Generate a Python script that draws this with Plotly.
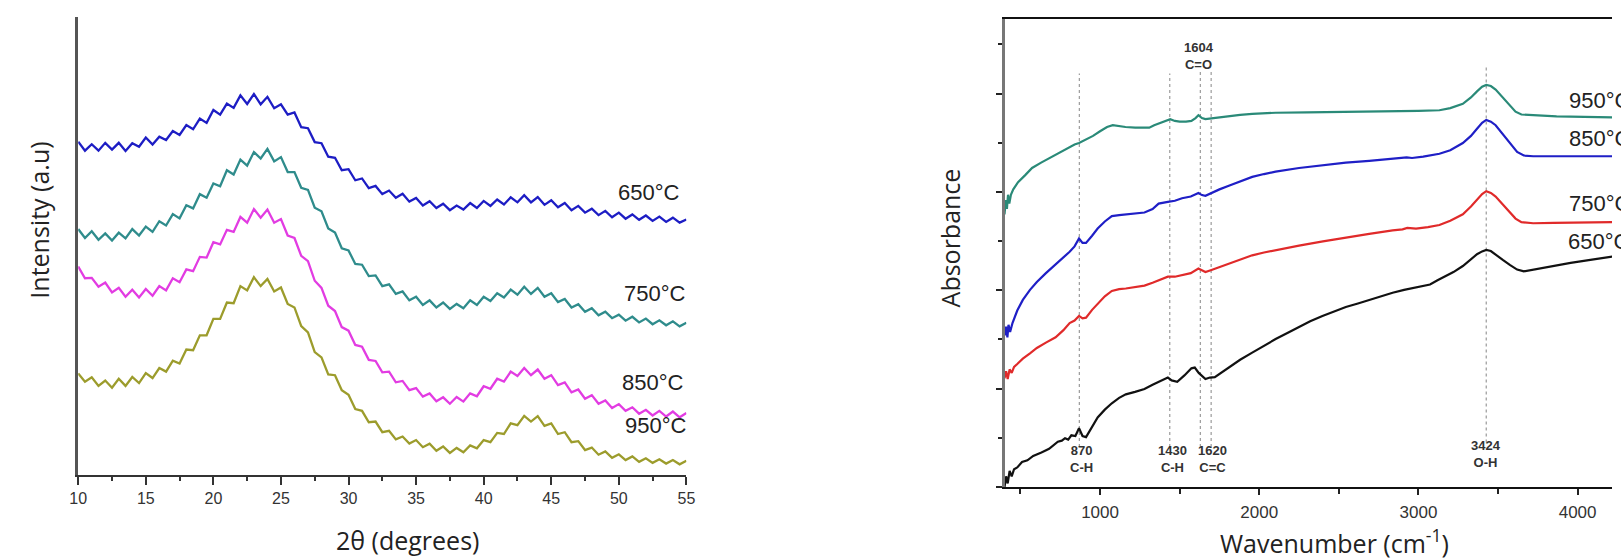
import plotly.graph_objects as go

W, H = 1621, 559

# ---------------- XRD data (left panel) ----------------
two_theta = [10, 10.5, 11, 11.5, 12, 12.5, 13, 13.5, 14, 14.5, 15, 15.5, 16, 16.5, 17, 17.5,
             18, 18.5, 19, 19.5, 20, 20.5, 21, 21.5, 22, 22.5, 23, 23.5, 24, 24.5, 25, 25.5,
             26, 26.5, 27, 27.5, 28, 28.5, 29, 29.5, 30, 30.5, 31, 31.5, 32, 32.5, 33, 33.5,
             34, 34.5, 35, 35.5, 36, 36.5, 37, 37.5, 38, 38.5, 39, 39.5, 40, 40.5, 41, 41.5,
             42, 42.5, 43, 43.5, 44, 44.5, 45, 45.5, 46, 46.5, 47, 47.5, 48, 48.5, 49, 49.5,
             50, 50.5, 51, 51.5, 52, 52.5, 53, 53.5, 54, 54.5, 55]

xrd_650 = [935, 910, 928, 910, 932, 913, 932, 909, 931, 921, 947, 927, 949, 940, 965, 954,
           982, 970, 1000, 988, 1024, 1011, 1042, 1030, 1065, 1041, 1069, 1040, 1061, 1029,
           1040, 1011, 1017, 976, 973, 934, 931, 893, 890, 855, 858, 827, 832, 805, 811, 788,
           798, 778, 789, 767, 777, 756, 768, 749, 761, 743, 756, 745, 763, 749, 769, 755,
           773, 759, 779, 765, 785, 765, 780, 758, 771, 751, 763, 743, 755, 736, 747, 729,
           741, 723, 736, 719, 731, 716, 728, 713, 725, 710, 722, 708, 717]
xrd_750 = [690, 665, 684, 660, 678, 658, 680, 664, 690, 672, 697, 682, 712, 700, 732, 720,
           757, 748, 788, 778, 818, 810, 855, 843, 885, 868, 906, 888, 915, 880, 892, 850,
           850, 806, 800, 750, 740, 692, 680, 636, 630, 592, 590, 558, 560, 530, 535, 508,
           515, 490, 500, 477, 490, 470, 484, 466, 480, 468, 490, 477, 500, 488, 510, 498,
           520, 506, 528, 508, 525, 500, 510, 485, 494, 470, 479, 458, 468, 448, 458, 440,
           450, 433, 444, 428, 439, 423, 434, 420, 431, 417, 427]
xrd_850 = [585, 552, 553, 528, 540, 512, 525, 500, 520, 498, 522, 503, 530, 518, 552, 541,
           577, 572, 612, 610, 653, 647, 688, 682, 724, 708, 746, 722, 745, 708, 718, 672,
           665, 615, 600, 545, 525, 475, 460, 415, 405, 365, 360, 323, 320, 288, 290, 260,
           264, 238, 244, 220, 229, 207, 218, 200, 219, 206, 229, 221, 249, 242, 270, 262,
           290, 278, 300, 280, 296, 270, 280, 252, 260, 232, 240, 214, 224, 200, 209, 188,
           199, 180, 190, 172, 183, 167, 180, 164, 178, 162, 174]
xrd_950 = [285, 262, 274, 250, 265, 245, 270, 250, 275, 258, 286, 272, 300, 290, 321, 313,
           352, 350, 392, 392, 438, 438, 484, 482, 530, 518, 555, 530, 550, 515, 526, 480,
           470, 418, 400, 345, 330, 282, 280, 238, 225, 185, 180, 148, 150, 120, 124, 100,
           108, 88, 98, 78, 88, 68, 80, 62, 76, 64, 83, 75, 98, 92, 118, 115,
           145, 140, 166, 150, 165, 138, 145, 115, 120, 92, 95, 70, 77, 57, 66, 48,
           58, 42, 52, 37, 47, 34, 44, 32, 42, 30, 40]

xrd_labels = ["650°C", "750°C", "850°C", "950°C"]
xrd_colors = ["#1d1dc4", "#2f8c8c", "#e23ce2", "#9c9c2c"]
xrd_ticks = [10, 15, 20, 25, 30, 35, 40, 45, 50, 55]

# ---------------- FTIR data (right panel) ----------------
wn_650 = [400, 410, 420, 432, 445, 460, 480, 510, 544, 580, 632, 680, 735, 760, 780, 800, 820,
          845, 868, 890, 912, 940, 985, 1030, 1074, 1120, 1162, 1220, 1279, 1330, 1368, 1400,
          1426, 1450, 1485, 1530, 1574, 1595, 1620, 1662, 1690, 1721, 1760, 1809, 1880, 1956,
          2030, 2103, 2180, 2250, 2320, 2397, 2470, 2544, 2620, 2691, 2760, 2838, 2910, 2985,
          3030, 3073, 3120, 3162, 3220, 3279, 3330, 3368, 3400, 3426, 3455, 3485, 3530, 3574,
          3620, 3662, 3720, 3779, 3860, 3956, 4080, 4225]
abs_650 = [0, 30, 10, 45, 30, 50, 55, 70, 75, 87, 97, 107, 127, 130, 137, 133, 145,
           143, 165, 143, 140, 160, 195, 217, 235, 250, 260, 267, 275, 287, 295, 303,
           307, 299, 295, 313, 333, 335, 320, 303, 307, 308, 320, 335, 357, 377,
           397, 415, 433, 450, 465, 480, 493, 505, 515, 525, 535, 545, 553, 560,
           565, 568, 580, 590, 603, 620, 640, 653, 661, 665, 662, 653, 637, 623,
           610, 605, 610, 615, 622, 629, 637, 647]

wn_750 = [400, 410, 420, 432, 445, 460, 480, 515, 560, 603, 660, 721, 770, 809, 840, 868, 890,
          912, 950, 985, 1030, 1074, 1120, 1162, 1220, 1279, 1330, 1368, 1426, 1470, 1515,
          1570, 1618, 1640, 1662, 1700, 1750, 1809, 1880, 1956, 2030, 2103, 2180, 2250, 2400,
          2544, 2691, 2838, 2900, 2930, 2985, 3060, 3132, 3200, 3279, 3330, 3368, 3400, 3426,
          3455, 3485, 3530, 3574, 3610, 3647, 3721, 3850, 4000, 4225]
abs_750 = [305, 325, 303, 330, 320, 337, 345, 360, 375, 390, 405, 420, 440, 460, 467, 480, 473,
           475, 497, 515, 535, 550, 555, 557, 560, 565, 573, 580, 590, 590, 595,
           600, 613, 607, 603, 609, 617, 625, 638, 650, 658, 665, 671, 677, 689,
           700, 710, 720, 723, 727, 725, 729, 735, 747, 765, 787, 805, 822, 830,
           825, 815, 793, 770, 753, 743, 740, 741, 742, 743]

wn_850 = [400, 410, 418, 425, 435, 450, 480, 515, 560, 603, 660, 721, 770, 809, 840, 868, 890,
          912, 950, 985, 1030, 1074, 1120, 1162, 1220, 1279, 1330, 1368, 1426, 1470, 1515,
          1570, 1618, 1640, 1662, 1700, 1750, 1809, 1880, 1956, 2030, 2103, 2250, 2400, 2544,
          2691, 2838, 2926, 2960, 3030, 3132, 3200, 3279, 3330, 3368, 3400, 3426, 3455, 3485,
          3530, 3574, 3620, 3662, 3721, 3900, 4225]
abs_850 = [425, 450, 420, 455, 435, 460, 495, 525, 553, 575, 600, 625, 643, 660, 675, 697, 685,
           685, 705, 725, 745, 760, 763, 765, 767, 770, 780, 795, 800, 803, 810,
           815, 825, 819, 817, 825, 835, 845, 858, 870, 878, 885, 895, 903, 910,
           915, 920, 925, 923, 927, 935, 945, 965, 985, 1005, 1022, 1030, 1025, 1015,
           990, 965, 940, 930, 928, 928, 928]

wn_950 = [400, 408, 415, 422, 430, 440, 455, 485, 530, 573, 630, 691, 750, 809, 840, 868, 900,
          956, 1000, 1044, 1080, 1103, 1160, 1221, 1280, 1309, 1340, 1368, 1400, 1441, 1470,
          1500, 1540, 1574, 1600, 1618, 1640, 1662, 1700, 1750, 1809, 1880, 1956, 2103, 2300,
          2544, 2800, 2926, 3000, 3132, 3200, 3279, 3330, 3368, 3400, 3426, 3455, 3485, 3530,
          3574, 3610, 3647, 3721, 3868, 4225]
abs_950 = [765, 805, 780, 820, 795, 820, 835, 855, 875, 895, 910, 925, 940, 955, 961, 965, 972,
           985, 998, 1010, 1015, 1013, 1010, 1008, 1008, 1008, 1015, 1020, 1025, 1032, 1027,
           1025, 1025, 1027, 1035, 1043, 1035, 1032, 1034, 1037, 1040, 1044, 1047, 1050, 1051,
           1052, 1053, 1055, 1055, 1057, 1063, 1075, 1093, 1110, 1123, 1128, 1125, 1115, 1093,
           1070, 1053, 1045, 1043, 1040, 1037]

ftir_labels = ["650°C", "750°C", "850°C", "950°C"]
ftir_colors = ["#111111", "#e02a2a", "#1f1fc6", "#2a8a78"]
ftir_ticks = [1000, 2000, 3000, 4000]

# band markers (dotted lines) and their labels
band_pos = [870, 1438, 1630, 1698, 3426]
band_top = [1160, 1160, 1170, 1170, 1185]
band_bottom = [112, 112, 112, 112, 125]
low_labels_x = [886, 1455, 1705, 3425]
low_labels_y = [79, 79, 79, 94]
low_labels_num = ["870", "1430", "1620", "3424"]
low_labels_grp = ["C-H", "C-H", "C=C", "O-H"]
top_label_x = 1622
top_label_y = 1208
top_label_num = "1604"
top_label_grp = "C=O"


def px(x, y):
    return x / W, 1 - y / H


fig = go.Figure()

for xs, lab, col in zip([xrd_650, xrd_750, xrd_850, xrd_950], xrd_labels, xrd_colors):
    fig.add_trace(go.Scatter(x=two_theta, y=xs, mode="lines", name=lab,
                             line=dict(color=col, width=2.3), xaxis="x", yaxis="y",
                             showlegend=False))

for wx, ay, lab, col in zip([wn_650, wn_750, wn_850, wn_950],
                            [abs_650, abs_750, abs_850, abs_950], ftir_labels, ftir_colors):
    fig.add_trace(go.Scatter(x=wx, y=ay, mode="lines", name=lab,
                             line=dict(color=col, width=2.2), xaxis="x2", yaxis="y2",
                             showlegend=False))

shapes = []
for bx, bt, bb in zip(band_pos, band_top, band_bottom):
    shapes.append(dict(type="line", xref="x2", yref="y2", x0=bx, x1=bx, y0=bb, y1=bt,
                       line=dict(color="#9a9a9a", width=1.2, dash="dot"), layer="below"))

annotations = []
# axis titles
title_font = dict(family="Open Sans", size=25, color="#222222")
ax, ay_ = px(403, 540)
annotations.append(dict(text="2θ (degrees)", x=ax, y=ay_, xref="paper", yref="paper",
                        showarrow=False, font=title_font, xanchor="center", yanchor="middle"))
ax, ay_ = px(30, 220)
annotations.append(dict(text="Intensity (a.u)", x=ax, y=ay_, xref="paper", yref="paper",
                        showarrow=False, font=title_font, textangle=-90,
                        xanchor="center", yanchor="middle"))
ax, ay_ = px(1340, 541)
annotations.append(dict(text="Wavenumber (cm<sup>-1</sup>)", x=ax, y=ay_, xref="paper",
                        yref="paper", showarrow=False, font=title_font,
                        xanchor="center", yanchor="middle"))
ax, ay_ = px(952, 238)
annotations.append(dict(text="Absorbance", x=ax, y=ay_, xref="paper", yref="paper",
                        showarrow=False, font=title_font, textangle=-90,
                        xanchor="center", yanchor="middle"))

# curve labels
lab_font = dict(family="Liberation Sans, Arial", size=22, color="#222222")
for lab, (lx, ly) in zip(xrd_labels, [(614, 193), (620, 293), (618, 382), (621, 425)]):
    a, b = px(lx, ly)
    annotations.append(dict(text=lab, x=a, y=b, xref="paper", yref="paper", showarrow=False,
                            font=lab_font, xanchor="left", yanchor="middle"))
for lab, (lx, ly) in zip(ftir_labels, [(1574, 241), (1575, 203), (1575, 138), (1575, 100)]):
    a, b = px(lx, ly)
    annotations.append(dict(text=lab, x=a, y=b, xref="paper", yref="paper", showarrow=False,
                            font=lab_font, xanchor="left", yanchor="middle"))

band_font = dict(family="Liberation Sans, Arial", size=13, color="#333333")
for lx, ly, num, grp in zip(low_labels_x, low_labels_y, low_labels_num, low_labels_grp):
    annotations.append(dict(text="<b>%s<br>%s</b>" % (num, grp), x=lx, y=ly, xref="x2",
                            yref="y2", showarrow=False, font=band_font, xanchor="center",
                            yanchor="middle", align="center"))
annotations.append(dict(text="<b>%s<br>%s</b>" % (top_label_num, top_label_grp),
                        x=top_label_x, y=top_label_y, xref="x2", yref="y2", showarrow=False,
                        font=band_font, xanchor="center", yanchor="middle", align="center"))

tick_font_l = dict(family="Liberation Sans, Arial", size=16, color="#333333")
tick_font_r = dict(family="Liberation Sans, Arial", size=17, color="#333333")

fig.update_layout(
    width=W, height=H,
    margin=dict(l=0, r=0, t=0, b=0),
    paper_bgcolor="white", plot_bgcolor="white",
    shapes=shapes, annotations=annotations,
    xaxis=dict(domain=[70 / W, 685 / W], range=[10, 55], anchor="y",
               tickvals=xrd_ticks, ticks="outside", ticklen=8, tickwidth=1.5,
               tickcolor="#333", showline=True, linecolor="#333", linewidth=2,
               showgrid=False, zeroline=False, tickfont=tick_font_l,
               minor=dict(dtick=2.5, tick0=10, ticks="outside", ticklen=4,
                          tickcolor="#333", tickwidth=1.5)),
    yaxis=dict(domain=[1 - 475 / H, 1 - 17 / H], range=[0, 1285], anchor="x",
               showline=True, linecolor="#555", linewidth=2.5, showticklabels=False,
               ticks="", showgrid=False, zeroline=False),
    xaxis2=dict(domain=[1006.7 / W, 1.0], range=[400, 4216], anchor="y2",
                tickvals=ftir_ticks, ticks="outside", ticklen=6, tickwidth=1.5,
                tickcolor="#222", showline=True, linecolor="#111", linewidth=2,
                mirror=True, showgrid=False, zeroline=False, tickfont=tick_font_r,
                ticklabelstandoff=3,
                minor=dict(tickvals=[500, 1500, 2500, 3500], ticks="outside", ticklen=5,
                           tickcolor="#222", tickwidth=1.5)),
    yaxis2=dict(domain=[1 - 487 / H, 1 - 19 / H], range=[0, 1313], anchor="x2",
                showline=True, linecolor="#777", linewidth=2.5, showticklabels=False,
                tick0=0, dtick=276, ticks="outside", ticklen=6, tickwidth=1.5,
                tickcolor="#222", showgrid=False, zeroline=False,
                minor=dict(tick0=138, dtick=276, ticks="outside", ticklen=4,
                           tickcolor="#222", tickwidth=1.5)),
)

fig.write_html("out.html")
